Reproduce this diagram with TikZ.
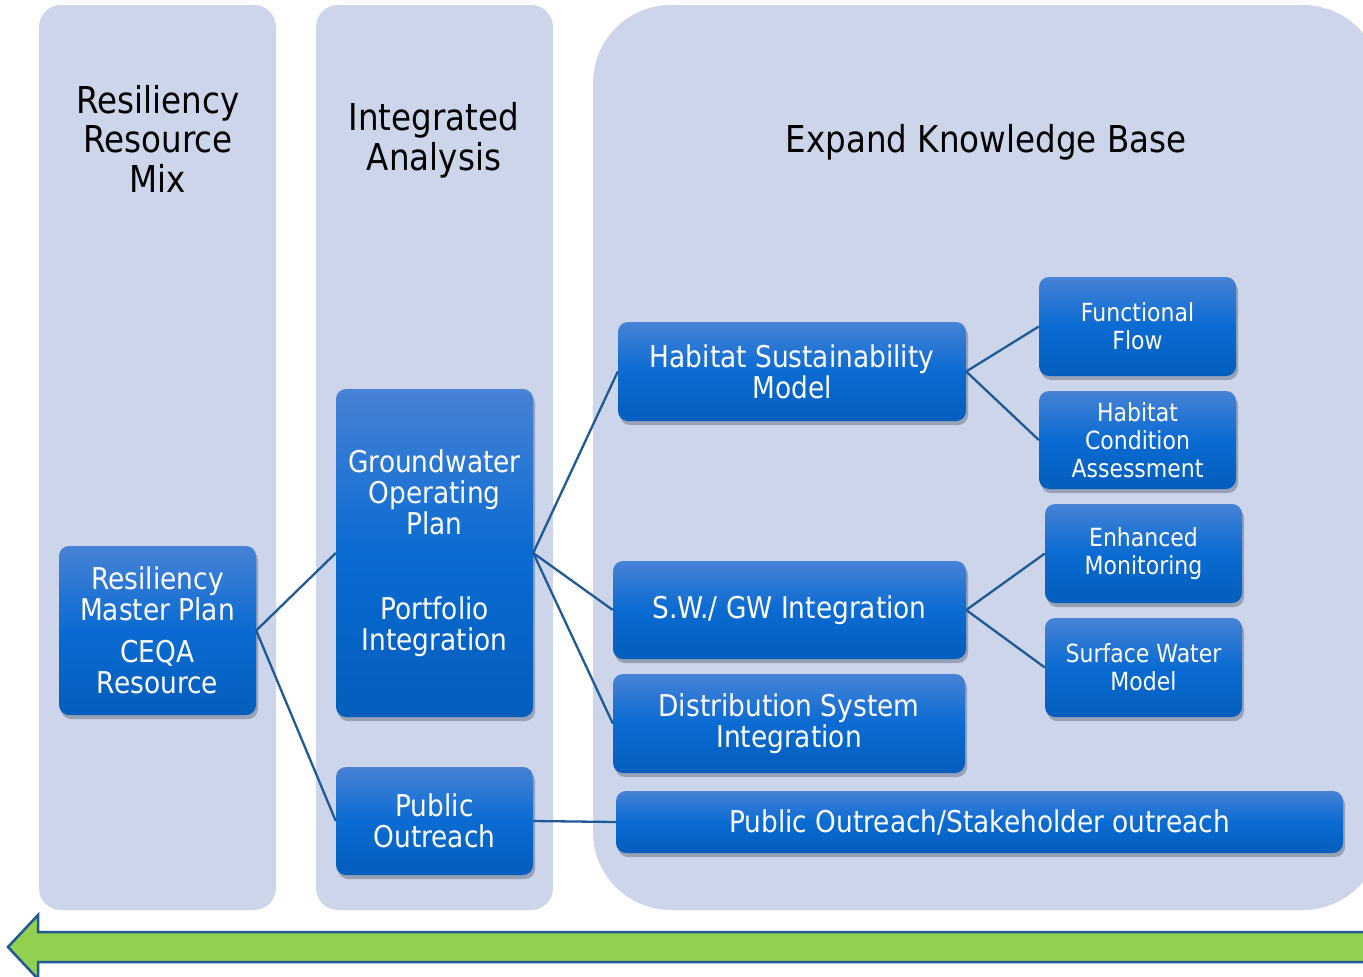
\documentclass[tikz,border=0pt]{standalone}
\usepackage{fontspec}
\setmainfont{DejaVu Sans}[FakeStretch=0.88]
\usetikzlibrary{shadows}
\definecolor{panel}{HTML}{CDD5EA}
\definecolor{boxtop}{HTML}{4782D6}
\definecolor{boxmid}{HTML}{0A6BD2}
\definecolor{boxbot}{HTML}{035EBC}
\definecolor{linkc}{HTML}{1F5A96}
\definecolor{arrowgreen}{HTML}{92D050}
\definecolor{shadowc}{HTML}{4A5468}
\begin{document}
\begin{tikzpicture}[x=1pt,y=-1pt,
  panelbox/.style={fill=panel, draw=none},
  box/.style={rectangle, rounded corners=10pt, inner sep=0pt, align=center, text=white,
    top color=boxtop, bottom color=boxbot, middle color=boxmid,
    drop shadow={opacity=0.4, fill=shadowc, shadow xshift=2pt, shadow yshift=-4pt}},
  bigtext/.style={font=\fontsize{30}{31}\selectfont},
  smalltext/.style={font=\fontsize{25}{28}\selectfont},
  title/.style={align=center, text=black, font=\fontsize{37}{39.5}\selectfont},
  link/.style={draw=linkc, line width=2.3pt}
]
\useasboundingbox (0,0) rectangle (1363,977);
\clip (0,0) rectangle (1363,977);

% panels
\fill[panelbox, rounded corners=22pt] (39,5) rectangle (276,910);
\fill[panelbox, rounded corners=22pt] (316,5) rectangle (553,910);
\fill[panelbox, rounded corners=78pt] (593,5) rectangle (1381,910);

% titles
\node[title] (t1) at (158,138.7) {Resiliency\\Resource\\Mix};
\node[title] (t2) at (434,140.5) {Integrated\\Analysis};
\node[title] (t3) at (986,142.5) {Expand Knowledge Base};

% boxes
\node[box, bigtext, minimum width=197pt, minimum height=169pt] (rmp) at (157.5,630.5)
  {Resiliency\\Master Plan\\[11pt]CEQA\\Resource};
\node[box, bigtext, minimum width=197pt, minimum height=328pt] (gop) at (434.5,553)
  {Groundwater\\Operating\\Plan\\[54pt]Portfolio\\Integration};
\node[box, bigtext, minimum width=197pt, minimum height=108pt] (po) at (434.5,821)
  {Public\\Outreach};
\node[box, bigtext, minimum width=348pt, minimum height=99pt] (hsm) at (792,371.5)
  {Habitat Sustainability\\Model};
\node[box, bigtext, minimum width=353pt, minimum height=98pt] (swgw) at (789.5,610)
  {S.W./ GW Integration};
\node[box, bigtext, minimum width=352pt, minimum height=99pt] (dsi) at (789,723.5)
  {Distribution System\\Integration};
\node[box, bigtext, minimum width=727pt, minimum height=62pt] (poso) at (979.5,822)
  {Public Outreach/Stakeholder outreach};
\node[box, smalltext, minimum width=197pt, minimum height=99pt] (ff) at (1137.5,326.5)
  {Functional\\Flow};
\node[box, smalltext, minimum width=197pt, minimum height=98pt] (hca) at (1137.5,440)
  {Habitat\\Condition\\Assessment};
\node[box, smalltext, minimum width=197pt, minimum height=99pt] (em) at (1143.5,553.5)
  {Enhanced\\Monitoring};
\node[box, smalltext, minimum width=197pt, minimum height=99pt] (swm) at (1143.5,667.5)
  {Surface Water\\Model};

% connectors
\draw[link] (rmp.east) -- (gop.west);
\draw[link] (rmp.east) -- (po.west);
\draw[link] (gop.east) -- (hsm.west);
\draw[link] (gop.east) -- (swgw.west);
\draw[link] (gop.east) -- (dsi.west);
\draw[link] (po.east) -- (poso.west);
\draw[link] (hsm.east) -- (ff.west);
\draw[link] (hsm.east) -- (hca.west);
\draw[link] (swgw.east) -- (em.west);
\draw[link] (swgw.east) -- (swm.west);

% green arrow
\draw[draw=linkc, fill=arrowgreen, line width=2.5pt, line join=miter]
  (8,947) -- (38,915) -- (38,932) -- (1375,932) -- (1375,962) -- (38,962) -- (38,979) -- cycle;
\end{tikzpicture}
\end{document}
